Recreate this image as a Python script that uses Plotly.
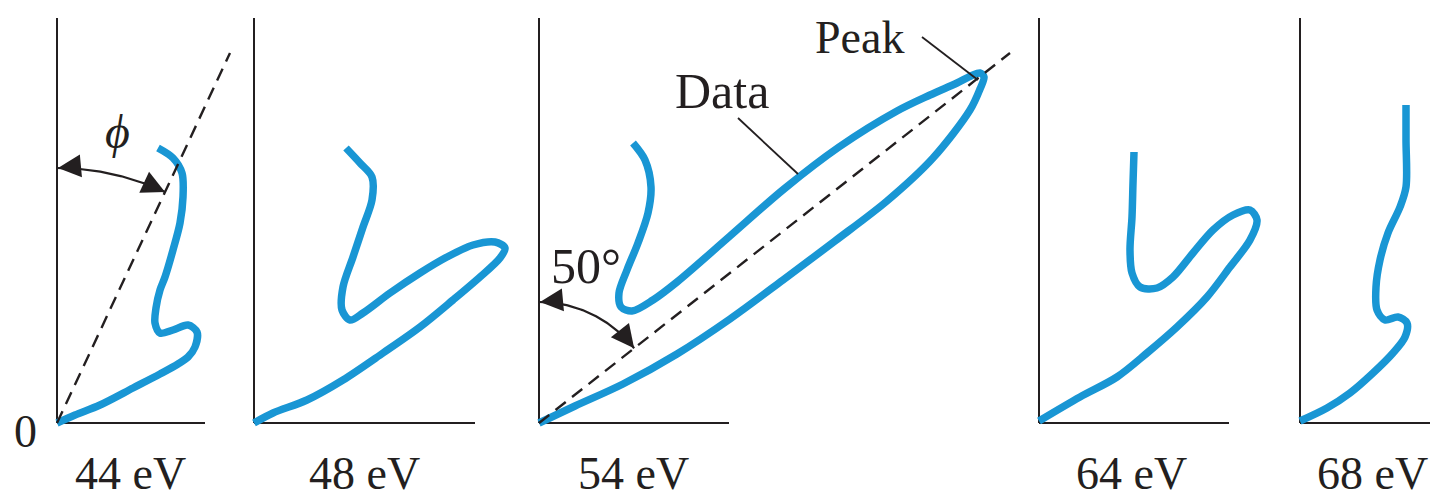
"""Davisson-Germer polar intensity plots for five electron energies."""

import numpy as np
import plotly.graph_objects as go

# ---- data: scattered intensity traced as (horizontal, vertical) components ----
energies = ["44 eV", "48 eV", "54 eV", "64 eV", "68 eV"]

x44 = [0, 18, 43, 76, 103, 121, 131, 138, 140, 131, 116, 103, 98, 99, 103, 108, 116, 123, 126, 125, 116, 101]
y44 = [0, 8, 18, 35, 49, 59, 66, 76, 91, 98, 93, 90, 100, 115, 133, 146, 173, 200, 226, 250, 265, 275]

x48 = [0, 19, 53, 89, 129, 166, 199, 226, 246, 251, 241, 219, 193, 166, 136, 109, 96, 88, 89, 99, 109, 118, 118, 106, 92]
y48 = [0, 10, 23, 43, 70, 96, 123, 146, 165, 175, 181, 178, 166, 150, 130, 110, 103, 113, 136, 166, 196, 223, 246, 260, 275]

x54 = [0, 36, 84, 138, 191, 244, 296, 348, 394, 431, 441, 445, 441,
       432, 418, 391, 358, 300, 245, 191, 138, 114, 93, 82, 80, 88, 99, 109, 112, 106, 94]
y54 = [0, 17, 39, 69, 104, 143, 182, 222, 265, 313, 334, 346, 350,
       347, 340, 328, 312, 276, 234, 187, 141, 123, 112, 116, 130, 153, 180, 210, 236, 263, 280]

x64 = [0, 41, 78, 108, 138, 168, 191, 211, 218, 211, 194, 174, 154, 134, 118, 101, 93, 91, 93, 94, 95]
y64 = [2, 26, 46, 70, 96, 126, 156, 183, 203, 213, 208, 193, 170, 146, 135, 136, 150, 173, 206, 240, 271]

x68 = [0, 27, 50, 73, 93, 105, 107, 98, 85, 77, 76, 80, 88, 100, 106, 106, 106]
y68 = [2, 15, 30, 50, 70, 86, 100, 106, 103, 113, 136, 163, 190, 216, 236, 283, 318]

curves_x = [x44, x48, x54, x64, x68]
curves_y = [y44, y48, y54, y64, y68]

# peak directions (dashed) for 44 eV and 54 eV
peak44_x = [0, 173]
peak44_y = [0, 370]
peak54_x = [0, 471]
peak54_y = [0, 370]

# ---- layout constants (page pixels) ----
W, H = 1438, 500
PAGE_OFFSET = 8          # default <body> margin of the exported page
ORIGIN_Y = 423
origins = [57, 254, 539, 1039, 1300]
domains = [(8, 240), (240, 530), (530, 1030), (1030, 1290), (1290, 1446)]
axis_len = [148, 221, 190, 190, 200]
axis_h = 405
label_dx = [73, 110, 94, 92, 72]

BLUE = "#1996d4"
INK = "#231f20"
FONT = "Liberation Serif, Times New Roman, serif"

fig = go.Figure()
layout = dict(
    width=W, height=H,
    margin=dict(l=0, r=0, t=0, b=0, pad=0),
    paper_bgcolor="white", plot_bgcolor="white",
    showlegend=False,
)
shapes = []
annotations = []
y_top = ORIGIN_Y - PAGE_OFFSET

for i in range(5):
    n = "" if i == 0 else str(i + 1)
    xa, ya = "x" + n, "y" + n
    d0, d1 = domains[i]
    ox = origins[i]
    layout["xaxis" + n] = dict(domain=[(d0 - PAGE_OFFSET) / W, (d1 - PAGE_OFFSET) / W],
                               range=[d0 - ox, d1 - ox],
                               visible=False, fixedrange=True, anchor=ya)
    layout["yaxis" + n] = dict(domain=[0, 1], range=[y_top - H, y_top],
                               visible=False, fixedrange=True, anchor=xa)

    # L-shaped frame
    shapes.append(dict(type="line", xref=xa, yref=ya, x0=0, x1=0, y0=0, y1=axis_h,
                       line=dict(color=INK, width=2), layer="below"))
    shapes.append(dict(type="line", xref=xa, yref=ya, x0=0, x1=axis_len[i], y0=0, y1=0,
                       line=dict(color=INK, width=2), layer="below"))

    fig.add_trace(go.Scatter(
        x=curves_x[i], y=curves_y[i], xaxis=xa, yaxis=ya, mode="lines",
        line=dict(color=BLUE, width=7.5, shape="spline", smoothing=0.9),
        hoverinfo="skip",
    ))

    annotations.append(dict(text=energies[i], xref=xa, yref=ya, x=label_dx[i], y=-50,
                            showarrow=False, xanchor="center", yanchor="middle",
                            font=dict(family=FONT, size=46, color=INK)))


def add_angle_marker(xa, ya, px, py, radius):
    """Dashed peak line plus a double-headed arc from the vertical axis."""
    fig.add_trace(go.Scatter(x=px, y=py, xaxis=xa, yaxis=ya, mode="lines",
                             line=dict(color=INK, width=2.4, dash="13px,8px"),
                             hoverinfo="skip"))
    th1 = np.arctan2(px[1], py[1])
    th = np.linspace(0, th1, 60)
    fig.add_trace(go.Scatter(x=radius * np.sin(th), y=radius * np.cos(th),
                             xaxis=xa, yaxis=ya, mode="lines",
                             line=dict(color=INK, width=2.2), hoverinfo="skip"))
    tail = 22
    # head on the vertical axis
    annotations.append(dict(text="", xref=xa, yref=ya, x=1, y=radius,
                            ax=tail, ay=-2, showarrow=True, arrowhead=2,
                            arrowsize=2.3, arrowwidth=2, arrowcolor=INK, standoff=0))
    # head on the dashed line
    annotations.append(dict(text="", xref=xa, yref=ya,
                            x=radius * np.sin(th1), y=radius * np.cos(th1),
                            ax=-tail * np.cos(th1), ay=-tail * np.sin(th1),
                            showarrow=True, arrowhead=2, arrowsize=2.3,
                            arrowwidth=2, arrowcolor=INK, standoff=0))


add_angle_marker("x", "y", peak44_x, peak44_y, 255)
add_angle_marker("x3", "y3", peak54_x, peak54_y, 121)

txt = dict(family=FONT, size=50, color=INK)
annotations += [
    dict(text="0", xref="x", yref="y", x=-32, y=-8, showarrow=False,
         font=dict(family=FONT, size=46, color=INK)),
    dict(text="<i>ϕ</i>", xref="x", yref="y", x=60, y=292, showarrow=False,
         font=dict(family=FONT, size=48, color=INK)),
    dict(text="Data", xref="x3", yref="y3", x=183, y=332, showarrow=False, font=txt),
    dict(text="Peak", xref="x3", yref="y3", x=320, y=386, showarrow=False,
         font=dict(family=FONT, size=46, color=INK)),
    dict(text="50°", xref="x3", yref="y3", x=47, y=157, showarrow=False, font=txt),
]

# leader lines for the 54 eV labels
shapes.append(dict(type="line", xref="x3", yref="y3", x0=199, y0=305, x1=259, y1=249,
                   line=dict(color=INK, width=1.8)))
shapes.append(dict(type="line", xref="x3", yref="y3", x0=383, y0=386, x1=439, y1=343,
                   line=dict(color=INK, width=1.8)))

layout["shapes"] = shapes
layout["annotations"] = annotations
fig.update_layout(**layout)

fig.write_html("out.html")
